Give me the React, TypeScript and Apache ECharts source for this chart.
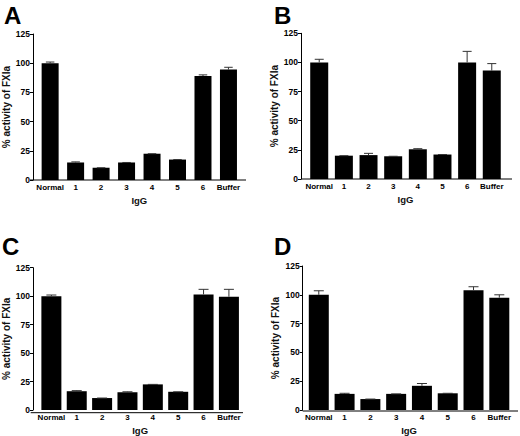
import React, { useEffect, useRef } from "react";
import * as echarts from "echarts";

const categories = ["Normal", "1", "2", "3", "4", "5", "6", "Buffer"];
const panelLetters = ["A", "B", "C", "D"];

// % activity of FXIa (mean) per panel
const valuesA = [100, 15, 10.5, 15, 22.5, 17.5, 89, 94.5];
const valuesB = [100, 20, 20.5, 19.5, 25.5, 21, 100, 93];
const valuesC = [100, 16.5, 10.5, 15.5, 22.5, 16, 101.5, 99.5];
const valuesD = [100, 14, 9.5, 14, 21, 14.5, 104, 97.5];

// upper error (SD)
const errorsA = [1, 0.5, 0, 0, 0, 0, 1, 2];
const errorsB = [2.7, 0, 1.5, 0, 0.5, 0, 9.5, 6];
const errorsC = [1, 0.5, 0, 0.5, 0, 0, 4.5, 6.5];
const errorsD = [3.5, 0.5, 0, 0, 2, 0, 3, 2.5];

const yTicks = [0, 25, 50, 75, 100, 125];

// axisEnd: where the x axis line stops on the right
const panels = [
  { values: valuesA, errors: errorsA, left: 34.4, width: 206.8, top: 34, height: 146, offset: 4.4, axisEnd: 246, barWidth: 17, letterX: 4, letterY: 3 },
  { values: valuesB, errors: errorsB, left: 306.9, width: 197.2, top: 33.3, height: 145.7, offset: 5.9, axisEnd: 512, barWidth: 18, letterX: 274, letterY: 3 },
  { values: valuesC, errors: errorsC, left: 36.4, width: 205.2, top: 267.7, height: 145, offset: 5.7, axisEnd: 243, barWidth: 20, letterX: 2, letterY: 234 },
  { values: valuesD, errors: errorsD, left: 305.9, width: 206.3, top: 266, height: 145, offset: 3.2, axisEnd: 518, barWidth: 20, letterX: 274, letterY: 234 },
];

const FONT = "'Liberation Sans', Arial, sans-serif";

const App: React.FC = () => {
  const chartRef = useRef<HTMLDivElement>(null);

  useEffect(() => {
    document.body.style.margin = "0";
    if (!chartRef.current) return;
    const chart = echarts.init(chartRef.current, null, { renderer: "svg" });

    const option: echarts.EChartsOption = {
      animation: false,
      backgroundColor: "#fff",
      textStyle: { fontFamily: FONT },
      title: panels.map((p, i) => ({
        text: panelLetters[i],
        left: p.letterX,
        top: p.letterY,
        padding: 0,
        textStyle: { fontFamily: FONT, fontSize: 24, fontWeight: "bold", color: "#000" },
      })),
      // x axis line runs from the (offset) y axis to past the last bar
      graphic: panels.map((p) => ({
        type: "line",
        shape: {
          x1: p.left - p.offset,
          y1: p.top + p.height,
          x2: p.axisEnd,
          y2: p.top + p.height,
        },
        style: { stroke: "#000", lineWidth: 1 },
        z: 10,
      })),
      grid: panels.map((p) => ({
        left: p.left,
        top: p.top,
        width: p.width,
        height: p.height,
        containLabel: false,
      })),
      xAxis: panels.map((p, i) => ({
        type: "category",
        gridIndex: i,
        data: categories,
        name: "IgG",
        nameLocation: "middle",
        nameGap: 15,
        nameTextStyle: { fontFamily: FONT, fontSize: 9.5, fontWeight: "bold", color: "#111" },
        axisLine: { show: false },
        axisTick: { show: false },
        axisLabel: {
          interval: 0,
          margin: 3,
          fontFamily: FONT,
          fontSize: 8,
          fontWeight: "bold",
          color: "#000",
        },
      })),
      yAxis: panels.map((p, i) => ({
        type: "value",
        gridIndex: i,
        min: yTicks[0],
        max: yTicks[yTicks.length - 1],
        interval: 25,
        offset: p.offset,
        name: "% activity of FXIa",
        nameLocation: "middle",
        nameGap: 22,
        nameTextStyle: { fontFamily: FONT, fontSize: 10, fontWeight: "bold", color: "#111" },
        axisLine: { show: true, lineStyle: { color: "#000", width: 1 } },
        axisTick: { show: true, length: 3, lineStyle: { color: "#000" } },
        axisLabel: {
          margin: 3,
          fontFamily: FONT,
          fontSize: 8.5,
          fontWeight: "bold",
          color: "#000",
        },
        splitLine: { show: false },
      })),
      series: [
        ...panels.map((p, i) => ({
          type: "bar" as const,
          xAxisIndex: i,
          yAxisIndex: i,
          data: p.values,
          barWidth: p.barWidth,
          itemStyle: { color: "#000" },
        })),
        ...panels.map((p, i) => ({
          type: "custom" as const,
          xAxisIndex: i,
          yAxisIndex: i,
          data: p.values.map((v, k) => [k, v, v + p.errors[k]]),
          z: 5,
          renderItem: (_params: any, api: any) => {
            const base = api.coord([api.value(0), api.value(1)]);
            const top = api.coord([api.value(0), api.value(2)]);
            const half = p.barWidth * 0.25;
            const style = { stroke: "#333", lineWidth: 1 };
            return {
              type: "group",
              children: [
                { type: "line", shape: { x1: base[0], y1: base[1], x2: top[0], y2: top[1] }, style },
                { type: "line", shape: { x1: top[0] - half, y1: top[1], x2: top[0] + half, y2: top[1] }, style },
              ],
            };
          },
        })),
      ],
    };

    chart.setOption(option);
    return () => {
      chart.dispose();
    };
  }, []);

  return <div ref={chartRef} style={{ width: "520px", height: "436px" }} />;
};

export default App;
